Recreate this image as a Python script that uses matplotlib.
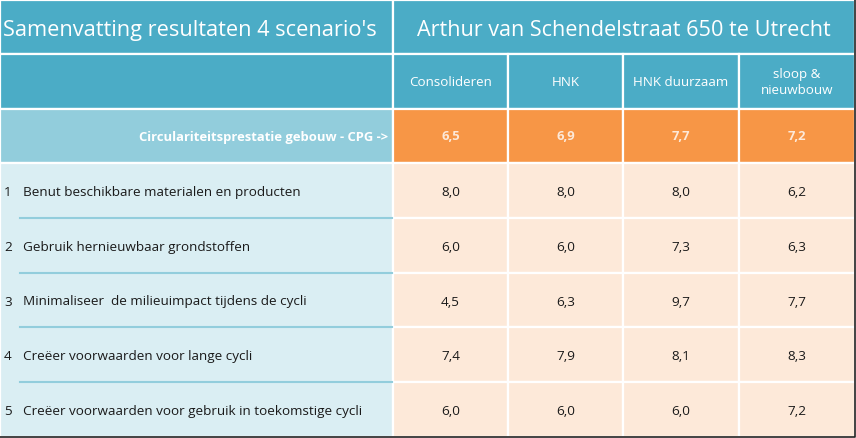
import matplotlib.pyplot as plt
from matplotlib.patches import Rectangle

plt.rcParams['font.family'] = ['Open Sans', 'DejaVu Sans']

title_left = "Samenvatting resultaten 4 scenario's"
title_right = "Arthur van Schendelstraat 650 te Utrecht"
scenarios = ["Consolideren", "HNK", "HNK duurzaam", "sloop &\nnieuwbouw"]
cpg_label = "Circulariteitsprestatie gebouw - CPG ->"
cpg_values = ["6,5", "6,9", "7,7", "7,2"]
criteria = ["Benut beschikbare materialen en producten",
            "Gebruik hernieuwbaar grondstoffen",
            "Minimaliseer  de milieuimpact tijdens de cycli",
            "Creëer voorwaarden voor lange cycli",
            "Creëer voorwaarden voor gebruik in toekomstige cycli"]
scores = [["8,0", "8,0", "8,0", "6,2"],
          ["6,0", "6,0", "7,3", "6,3"],
          ["4,5", "6,3", "9,7", "7,7"],
          ["7,4", "7,9", "8,1", "8,3"],
          ["6,0", "6,0", "6,0", "7,2"]]

TEAL = '#4bacc6'
TEAL_LIGHT = '#92cddc'
BLUE_PALE = '#daeef3'
ORANGE = '#f79646'
PEACH = '#fde9d9'

# layout in pixels
col_x = [0, 393, 508, 623, 739, 855]
row_y = [0, 54, 109, 163, 218, 273, 327, 382, 437]

fig = plt.figure(figsize=(8.56, 4.38), dpi=100)
ax = fig.add_axes([0, 0, 1, 1])
ax.set_xlim(0, 856)
ax.set_ylim(438, 0)
ax.axis('off')


def cell(x0, x1, y0, y1, color):
    ax.add_patch(Rectangle((x0, y0), x1 - x0, y1 - y0, facecolor=color,
                           edgecolor='white', linewidth=1.6))


# title row
cell(col_x[0], col_x[1], row_y[0], row_y[1], TEAL)
cell(col_x[1], col_x[5], row_y[0], row_y[1], TEAL)
ax.text(3, 30.5, title_left, color='white', fontsize=15.7, va='center', ha='left')
ax.text((col_x[1] + col_x[5]) / 2, 30.5, title_right, color='white',
        fontsize=15.6, va='center', ha='center')

# header row
cell(col_x[0], col_x[1], row_y[1], row_y[2], TEAL)
for i, s in enumerate(scenarios):
    cell(col_x[i + 1], col_x[i + 2], row_y[1], row_y[2], TEAL)
    ax.text((col_x[i + 1] + col_x[i + 2]) / 2, (row_y[1] + row_y[2]) / 2 + 1, s,
            color='white', fontsize=9.6, ha='center', va='center', linespacing=1.35)

# CPG row
cell(col_x[0], col_x[1], row_y[2], row_y[3], TEAL_LIGHT)
ax.text(388, (row_y[2] + row_y[3]) / 2 + 1, cpg_label, color='white',
        fontsize=9.4, fontweight='bold', ha='right', va='center')
for i, v in enumerate(cpg_values):
    cell(col_x[i + 1], col_x[i + 2], row_y[2], row_y[3], ORANGE)
    ax.text((col_x[i + 1] + col_x[i + 2]) / 2, (row_y[2] + row_y[3]) / 2 + 1, v,
            color=PEACH, fontsize=9.4, fontweight='bold', ha='center', va='center')

# criteria rows
ax.add_patch(Rectangle((col_x[0], row_y[3]), col_x[1] - col_x[0],
                       row_y[-1] - row_y[3], facecolor=BLUE_PALE,
                       edgecolor='white', linewidth=1.6))
for r, (name, row) in enumerate(zip(criteria, scores)):
    y0, y1 = row_y[r + 3], row_y[r + 4]
    yc = (y0 + y1) / 2 + 2
    ax.text(4, yc, str(r + 1), color='#1a1a1a', fontsize=9.7, ha='left', va='center')
    ax.text(23, yc, name, color='#1a1a1a', fontsize=9.7, ha='left', va='center')
    if r > 0:
        ax.plot([20, 392], [y0, y0], color=TEAL_LIGHT, linewidth=1.5)
    for i, v in enumerate(row):
        cell(col_x[i + 1], col_x[i + 2], y0, y1, PEACH)
        ax.text((col_x[i + 1] + col_x[i + 2]) / 2, yc, v, color='#1a1a1a',
                fontsize=9.7, ha='center', va='center')

# dark border bottom/right
ax.plot([0, 855, 855], [437, 437, 0], color='#222222', linewidth=1.2)

fig.savefig('out.png', dpi=100)
